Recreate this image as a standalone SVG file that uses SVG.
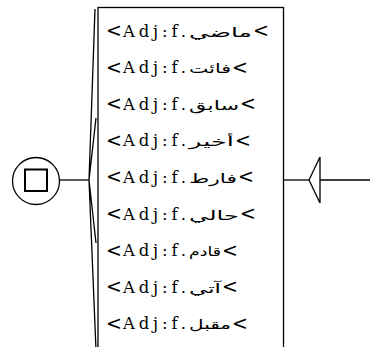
<svg xmlns="http://www.w3.org/2000/svg" width="370" height="347" viewBox="0 0 370 347">
<style>
.ln{stroke:#000;stroke-width:1.3;fill:none}
.lat{font-family:"DejaVu Serif",serif;font-size:16.5px;fill:#000}
.lt{font-family:"DejaVu Sans",sans-serif;font-size:19px;fill:#000}
.gt{font-family:"DejaVu Sans",sans-serif;font-size:19px;fill:#000;text-anchor:end}
.ar{font-family:"DejaVu Sans",sans-serif;font-size:13px;fill:#000}
</style>
<rect width="370" height="347" fill="#fff"/>
<g id="connectors">
<line class="ln" x1="60" y1="180" x2="89" y2="180"/>
<path class="ln" d="M89 180L95 9M89 180L96 118M89 180L96 243M89 180L96 350"/>
<line class="ln" x1="283" y1="180" x2="309" y2="180"/>
<line class="ln" x1="320" y1="180" x2="370" y2="180"/>
</g>
<g id="start">
<circle class="ln" cx="36" cy="181" r="23.5"/>
<rect x="25" y="169.5" width="22" height="21.5" fill="none" stroke="#000" stroke-width="2"/>
</g>
<g id="end">
<polygon class="ln" points="309,180 320,157 320,203"/>
</g>
<g id="box">
<rect class="ln" x="98" y="7.5" width="185.5" height="345"/>
<text class="lt" x="106" y="37">&lt;</text>
<text class="lat" x="123" y="36.5" textLength="63" lengthAdjust="spacing">Adj:f.</text>
<text class="ar" x="189" y="36.5" textLength="63" lengthAdjust="spacingAndGlyphs">ماضي</text>
<text class="gt" x="269" y="37">&lt;</text>
<text class="lt" x="106" y="73.6">&lt;</text>
<text class="lat" x="123" y="73.1" textLength="63" lengthAdjust="spacing">Adj:f.</text>
<text class="ar" x="189" y="73.1" textLength="42" lengthAdjust="spacingAndGlyphs">فائت</text>
<text class="gt" x="248" y="73.6">&lt;</text>
<text class="lt" x="106" y="110.2">&lt;</text>
<text class="lat" x="123" y="109.7" textLength="63" lengthAdjust="spacing">Adj:f.</text>
<text class="ar" x="189" y="109.7" textLength="50" lengthAdjust="spacingAndGlyphs">سابق</text>
<text class="gt" x="256" y="110.2">&lt;</text>
<text class="lt" x="106" y="146.8">&lt;</text>
<text class="lat" x="123" y="146.3" textLength="63" lengthAdjust="spacing">Adj:f.</text>
<text class="ar" x="189" y="146.3" textLength="45" lengthAdjust="spacingAndGlyphs">أخير</text>
<text class="gt" x="251" y="146.8">&lt;</text>
<text class="lt" x="106" y="183.4">&lt;</text>
<text class="lat" x="123" y="182.9" textLength="63" lengthAdjust="spacing">Adj:f.</text>
<text class="ar" x="189" y="182.9" textLength="48" lengthAdjust="spacingAndGlyphs">فارط</text>
<text class="gt" x="254" y="183.4">&lt;</text>
<text class="lt" x="106" y="220">&lt;</text>
<text class="lat" x="123" y="219.5" textLength="63" lengthAdjust="spacing">Adj:f.</text>
<text class="ar" x="189" y="219.5" textLength="50" lengthAdjust="spacingAndGlyphs">حالي</text>
<text class="gt" x="256" y="220">&lt;</text>
<text class="lt" x="106" y="256.6">&lt;</text>
<text class="lat" x="123" y="256.1" textLength="63" lengthAdjust="spacing">Adj:f.</text>
<text class="ar" x="189" y="256.1" textLength="32" lengthAdjust="spacingAndGlyphs">قادم</text>
<text class="gt" x="238" y="256.6">&lt;</text>
<text class="lt" x="106" y="293.2">&lt;</text>
<text class="lat" x="123" y="292.7" textLength="63" lengthAdjust="spacing">Adj:f.</text>
<text class="ar" x="189" y="292.7" textLength="32" lengthAdjust="spacingAndGlyphs">آتي</text>
<text class="gt" x="238" y="293.2">&lt;</text>
<text class="lt" x="106" y="329.8">&lt;</text>
<text class="lat" x="123" y="329.3" textLength="63" lengthAdjust="spacing">Adj:f.</text>
<text class="ar" x="189" y="329.3" textLength="42" lengthAdjust="spacingAndGlyphs">مقبل</text>
<text class="gt" x="248" y="329.8">&lt;</text>
</g>
</svg>
